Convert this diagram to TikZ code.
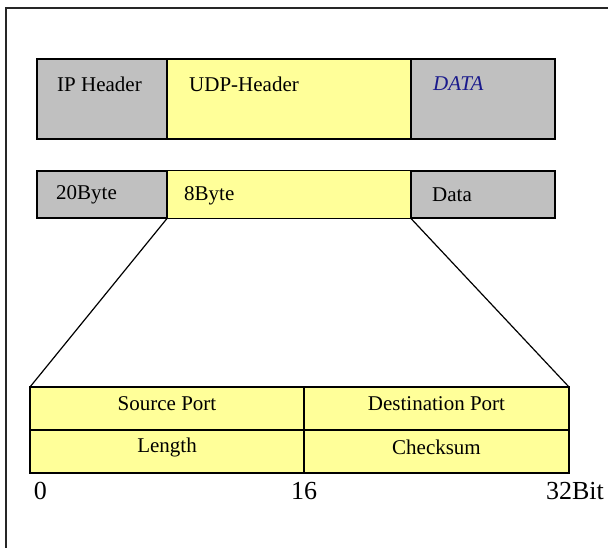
\documentclass[tikz,border=0pt]{standalone}
\usepackage{fontspec}
\setmainfont{Liberation Serif}
\definecolor{boxgrey}{HTML}{C0C0C0}
\definecolor{boxyellow}{HTML}{FFFF99}
\definecolor{datablue}{HTML}{1A1A8C}
\begin{document}
\begin{tikzpicture}[x=1pt,y=-1pt,
  field/.style={draw=black, line width=1.5pt, anchor=north west, inner sep=0pt, outer sep=0pt},
  greyfield/.style={field, fill=boxgrey},
  yellowfield/.style={field, fill=boxyellow},
  lbl/.style={inner sep=0pt, anchor=west, font=\fontsize{21}{24}\selectfont},
  bitlbl/.style={inner sep=0pt, font=\fontsize{26}{30}\selectfont},
  cellbl/.style={inner sep=0pt, font=\fontsize{21}{24}\selectfont},
  link/.style={line width=1.2pt, black}]
\useasboundingbox (0,0) rectangle (608,548);
% outer frame (top and left edges)
\draw[line width=2pt, black!85] (6,548) -- (6,8) -- (608,8);

% packet layout
\node[greyfield, minimum width=130, minimum height=80] (ip) at (37,59) {};
\node[yellowfield, minimum width=244, minimum height=80] (udp) at (167,59) {};
\node[greyfield, minimum width=144, minimum height=80] (data) at (411,59) {};
\node[lbl] (ipt) at (57,84) {IP Header};
\node[lbl] (udpt) at (189,84) {UDP-Header};
\node[lbl, text=datablue, font=\fontsize{21}{24}\selectfont\itshape] (datat) at (433,84) {DATA};

% sizes
\node[greyfield, minimum width=130, minimum height=47] (ipb) at (37,171) {};
\node[greyfield, minimum width=144, minimum height=47] (datab) at (411,171) {};
\node[yellowfield, minimum width=244, minimum height=48] (udpb) at (167,170.5) {};
\node[lbl] (ipbt) at (56,195) {20Byte};
\node[lbl] (udpbt) at (184,196) {8Byte};
\node[lbl] (databt) at (432,195) {Data};

% UDP header fields
\node[yellowfield, minimum width=539, minimum height=86] (tab) at (30,387) {};
\coordinate (mt) at (304,387);
\coordinate (mb) at (304,473);
\draw[line width=1.5pt] (mt) -- (mb);
\draw[line width=1.5pt] (tab.west) -- (tab.east);
\node[cellbl] (sp) at (167,404) {Source Port};
\node[cellbl] (dp) at (436.5,404) {Destination Port};
\node[cellbl] (ln) at (167,447) {Length};
\node[cellbl] (cs) at (436.5,447) {Checksum};

% zoom lines
\draw[link] (udpb.south west) -- (tab.north west);
\draw[link] (udpb.south east) -- (tab.north east);

% bit scale
\node[bitlbl] (b0) at (40.5,491) {0};
\node[bitlbl] (b16) at (304,491) {16};
\node[bitlbl, anchor=east] (b32) at (604,491) {32Bit};
\end{tikzpicture}
\end{document}
